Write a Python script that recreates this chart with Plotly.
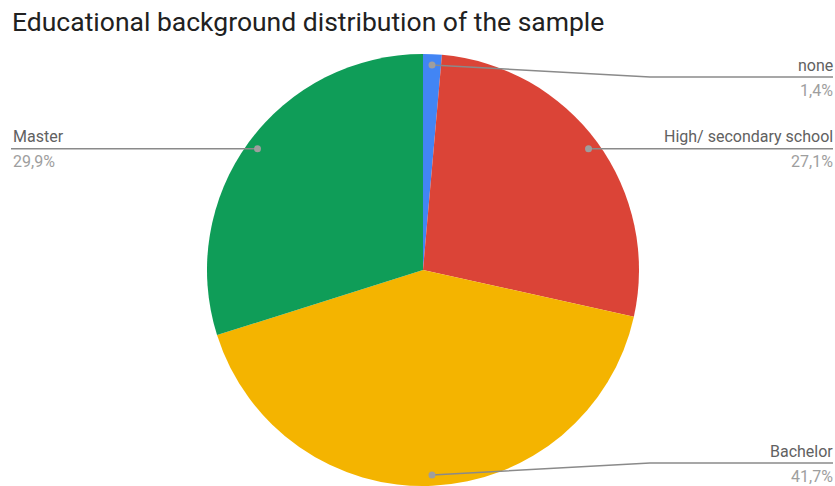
import math
import plotly.graph_objects as go

# ---- data -------------------------------------------------------------
categories = ["none", "High/ secondary school", "Bachelor", "Master"]
shares = [1.4, 27.1, 41.7, 29.9]
pct_labels = ["1,4%", "27,1%", "41,7%", "29,9%"]
colors = ["#4285F4", "#DB4437", "#F4B400", "#0F9D58"]
title_text = "Educational background distribution of the sample"

# ---- canvas / pie geometry (pixel units) ------------------------------
W, H = 835, 486
ML, MR, MT, MB = 11, 0, 54, 0
PW, PH = W - ML - MR, H - MT - MB
cx, cy = ML + PW / 2, MT + PH / 2
R = min(PW, PH) / 2

# label placement: side of the chart and optional fixed row for the leader line
label_side = ["right", "right", "right", "left"]
label_row = [77, None, 463, None]
bend_x = 650          # where sloped leader lines turn horizontal
right_edge, left_edge = 833, 11

LINE_COL = "#8a8a8a"
DOT_COL = "#9e9e9e"
NAME_COL = "#616161"
PCT_COL = "#9e9e9e"
FONT = "Roboto"

fig = go.Figure()
fig.add_trace(go.Pie(
    labels=categories,
    values=shares,
    marker=dict(colors=colors, line=dict(width=0)),
    sort=False,
    direction="clockwise",
    rotation=0,
    textinfo="none",
    hoverinfo="label+percent",
    showlegend=False,
    domain=dict(x=[0, 1], y=[0, 1]),
))

shapes = []
annotations = []
total = sum(shares)
cum = 0.0
for name, val, pct, side, row in zip(categories, shares, pct_labels, label_side, label_row):
    mid = (cum + val / 2) / total * 2 * math.pi
    cum += val
    dx = 0.95 * R * math.sin(mid)
    dy = -0.95 * R * math.cos(mid)
    px, py = cx + dx, cy + dy
    end_x = right_edge if side == "right" else left_edge
    if row is None:
        path = f"M{px},{py} L{end_x},{py}"
        ly = py
    else:
        path = f"M{px},{py} L{bend_x},{row} L{end_x},{row}"
        ly = row
    shapes.append(dict(type="path", path=path, xref="x", yref="y",
                       line=dict(color=LINE_COL, width=1.5), layer="above"))
    shapes.append(dict(type="circle", xref="x", yref="y",
                       x0=px - 3.5, x1=px + 3.5, y0=py - 3.5, y1=py + 3.5,
                       fillcolor=DOT_COL, line=dict(width=0), layer="above"))
    anchor = "right" if side == "right" else "left"
    tx = W - MR if side == "right" else ML
    annotations.append(dict(x=tx, y=ly - 12, xref="x", yref="y", text=name,
                            showarrow=False, xanchor=anchor, yanchor="middle",
                            font=dict(family=FONT, size=16, color=NAME_COL)))
    annotations.append(dict(x=tx, y=ly + 13, xref="x", yref="y", text=pct,
                            showarrow=False, xanchor=anchor, yanchor="middle",
                            font=dict(family=FONT, size=16, color=PCT_COL)))

# chart title, positioned relative to the plot area (paper units)
annotations.append(dict(x=(10 - ML) / PW, y=(H - MB - 21) / PH,
                        xref="paper", yref="paper", text=title_text,
                        showarrow=False, xanchor="left", yanchor="middle",
                        font=dict(family=FONT, size=26.5, color="#212121")))

fig.update_layout(
    width=W, height=H,
    margin=dict(l=ML, r=MR, t=MT, b=MB, pad=0),
    paper_bgcolor="white", plot_bgcolor="rgba(0,0,0,0)",
    xaxis=dict(range=[ML, W - MR], visible=False, fixedrange=True),
    yaxis=dict(range=[H - MB, MT], visible=False, fixedrange=True),
    shapes=shapes,
    annotations=annotations,
    showlegend=False,
)

fig.write_html("out.html", config={"displayModeBar": False})
